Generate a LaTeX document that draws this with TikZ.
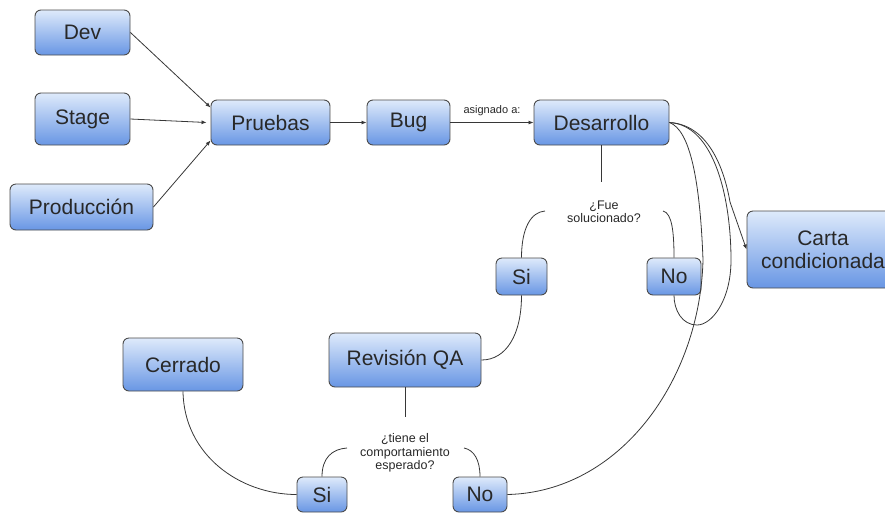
\documentclass[tikz,border=0pt]{standalone}
\usepackage{fontspec}
\setmainfont{Liberation Sans}
\usetikzlibrary{arrows.meta}
\definecolor{boxtop}{RGB}{222,234,251}
\definecolor{boxbot}{RGB}{104,150,228}
\definecolor{boxline}{RGB}{75,75,75}
\definecolor{linec}{RGB}{55,55,55}
\definecolor{labc}{RGB}{40,40,40}
\begin{document}
\begin{tikzpicture}[x=1pt,y=-1pt,
  box/.style={draw=boxline, line width=0.9pt, rounded corners=6pt,
    top color=boxtop, bottom color=boxbot, text=labc,
    font=\fontsize{21}{23}\selectfont, align=center, inner sep=0pt},
  conn/.style={draw=linec, line width=0.8pt},
  arr/.style={conn, -{Latex[length=5pt,width=4pt]}},
  lbl/.style={font=\fontsize{12.5}{13.5}\selectfont, text=labc, align=center}]
\useasboundingbox (0,0) rectangle (885,515);
\clip (0,0) rectangle (885,515);
% nodes
\node[box, minimum width=95pt, minimum height=45pt] (dev) at (82.5,32.5) {Dev};
\node[box, minimum width=95pt, minimum height=52pt] (stage) at (82.5,119) {Stage};
\node[box, minimum width=143pt, minimum height=46pt] (prod) at (81.5,207) {Producción};
\node[box, minimum width=119pt, minimum height=45pt] (pruebas) at (270.5,122.5) {Pruebas};
\node[box, minimum width=83pt, minimum height=45pt] (bug) at (408.5,122.5) {Bug};
\node[box, minimum width=135pt, minimum height=45pt] (desa) at (601.5,122.5) {Desarrollo};
\node[box, minimum width=152pt, minimum height=77pt] (carta) at (823,249.5) {Carta\\condicionada};
\node[box, minimum width=51pt, minimum height=37pt] (siA) at (521.5,276.5) {Si};
\node[box, minimum width=54pt, minimum height=37pt] (noA) at (674,276.5) {No};
\node[box, minimum width=152pt, minimum height=54pt] (revqa) at (405,360) {Revisión QA};
\node[box, minimum width=120pt, minimum height=53pt] (cerrado) at (183,364.5) {Cerrado};
\node[box, minimum width=50pt, minimum height=35pt] (siB) at (322,494.5) {Si};
\node[box, minimum width=54pt, minimum height=35pt] (noB) at (480,494.5) {No};
\node[lbl] (fue) at (604,212) {¿Fue\\solucionado?};
\node[lbl] (tiene) at (405,453) {¿tiene el\\comportamiento\\esperado?};
\coordinate (fueTop) at (601.5,182);
\coordinate (fueL) at (545,211);
\coordinate (fueR) at (663,211);
\coordinate (tieneTop) at (405,417);
\coordinate (tieneL) at (347,448);
\coordinate (tieneR) at (464,448);
% connectors
\draw[arr] (dev.east) -- ([yshift=15pt]pruebas.west);
\draw[arr] (stage.east) -- ([xshift=-4pt]pruebas.west);
\draw[arr] (prod.east) -- ([yshift=-18pt]pruebas.west);
\draw[arr] (pruebas.east) -- (bug.west);
\draw[arr] (bug.east) -- node[above=3pt, font=\fontsize{11}{12}\selectfont, text=labc] {asignado a:} (desa.west);
\draw[conn] (desa.south) -- (fueTop);
\draw[conn] (siA.north) .. controls (521.5,228) and (531,212) .. (fueL);
\draw[conn] (fueR) .. controls (672,213) and (674,232) .. (noA.north);
\draw[conn] (siA.south) .. controls (521.5,335) and (506,360) .. (revqa.east);
\draw[conn] (revqa.south) -- (tieneTop);
\draw[conn] (siB.north) .. controls (322,458) and (332,449) .. (tieneL);
\draw[conn] (tieneR) .. controls (474,450) and (480,460) .. (noB.north);
\draw[conn] (cerrado.south) .. controls (184,455) and (240,494.5) .. (siB.west);
\draw[conn] (noB.east) .. controls (620,492) and (700,380) .. (703,260) .. controls (700,180) and (690,130) .. (desa.east);
\draw[conn] (desa.east) .. controls (715,125) and (731,200) .. (731,260) .. controls (731,300) and (712,325) .. (697,325) .. controls (682,325) and (674,310) .. (noA.south);
\draw[arr] (desa.east) .. controls (715,125) and (727,185) .. (730,202) -- (carta.west);
\end{tikzpicture}
\end{document}
